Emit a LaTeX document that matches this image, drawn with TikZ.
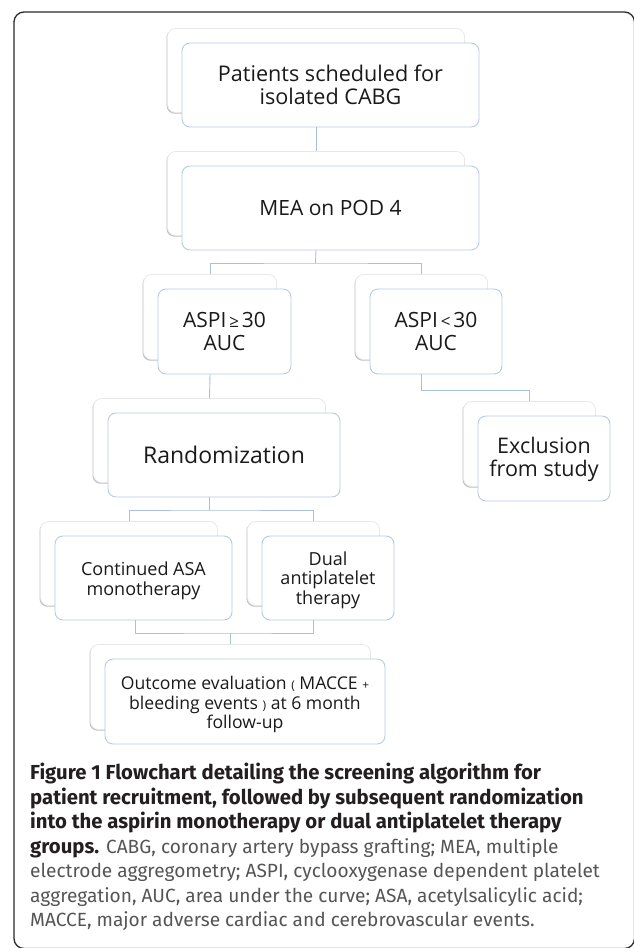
\documentclass[tikz,border=0pt]{standalone}
\usepackage{fontspec}
\setmainfont{Open Sans}
\newfontfamily\capfont{Fira Sans}
\usetikzlibrary{shadows}
\definecolor{boxblue}{HTML}{B7CBE3}
\definecolor{lineblue}{HTML}{A8C0DD}
\definecolor{backgray}{HTML}{E8E8E8}
\definecolor{framecol}{HTML}{2B2B2B}
\definecolor{captxt}{HTML}{231F20}
\definecolor{capgray}{HTML}{555555}
\definecolor{boxtxt}{HTML}{1A1A1A}
\newcommand\capbold[1]{{\fontsize{20.3}{24.5}\selectfont\bfseries #1}}
\newcommand\capreg[1]{{\fontsize{19.1}{24.5}\selectfont\color{capgray}#1}}
% #1 name, #2 cx, #3 cy, #4 width, #5 height, #6 font, #7 text, #8 text shift down
\newcommand\twobox[8]{%
  \node[backbox, minimum width=#4, minimum height=#5] (#1b) at ({#2-14.5},{#3-14.5}) {};
  \node[frontbox, minimum width=#4, minimum height=#5] (#1f) at (#2,#3) {};
  \node[boxtext, font=#6] (#1t) at ({#2},{#3+#8}) {#7};}
\begin{document}
\begin{tikzpicture}[x=1pt,y=-1pt,
  frontbox/.style={draw=boxblue, line width=0.9pt, fill=white, rounded corners=8pt,
    inner sep=0pt},
  boxtext/.style={inner sep=0pt, align=center, text=boxtxt},
  backbox/.style={draw=backgray, line width=0.8pt, fill=white, rounded corners=8pt,
    inner sep=0pt, drop shadow={shadow xshift=-1pt, shadow yshift=-1.2pt, fill=black!45, opacity=0.55}},
  conn/.style={draw=lineblue, line width=0.9pt},
]
\useasboundingbox[fill=white] (0,0) rectangle (633,948);
\draw[framecol, line width=1.3pt, rounded corners=10pt] (14,12) rectangle (634.5,948.5);

\twobox{P}{330.5}{85}{297}{84}{\fontsize{21.6}{23}\selectfont}{Patients scheduled for\\isolated CABG}{0}
\twobox{M}{330.5}{208}{297}{84}{\fontsize{21}{25}\selectfont}{MEA on POD 4}{0}
\twobox{Aa}{224.5}{331.5}{133}{85}{\fontsize{21}{23.5}\selectfont}{ASPI{\fontsize{17}{17}\selectfont\,≥\,}30\\AUC}{0}
\twobox{Ab}{436}{331.5}{132}{85}{\fontsize{21}{23.5}\selectfont}{ASPI{\fontsize{17}{17}\selectfont\,<\,}30\\AUC}{0}
\twobox{R}{224}{455}{232}{84}{\fontsize{23}{25}\selectfont}{Randomization}{0}
\twobox{E}{544}{458.5}{132}{85}{\fontsize{21.5}{23.5}\selectfont}{Exclusion\\from study}{1}
\twobox{C}{143.5}{578}{177}{84}{\fontsize{18}{19.5}\selectfont}{Continued ASA\\monotherapy}{3}
\twobox{D}{328}{578}{132}{84}{\fontsize{18}{19.5}\selectfont}{Dual\\antiplatelet\\therapy}{2}
\twobox{O}{245}{701.5}{280}{85}{\fontsize{17.6}{19.5}\selectfont}{Outcome evaluation {\fontsize{12}{12}\selectfont(} MACCE {\fontsize{12}{12}\selectfont+}\\bleeding events {\fontsize{12}{12}\selectfont)} at 6 month\\follow-up}{3}

\coordinate (jM) at (315.5,263);
\coordinate (jA) at (421.5,390);
\coordinate (jR) at (209.5,510);
\coordinate (jO) at (230.5,633);
\draw[conn] (Pb.south |- Pf.south) -- (Mb.north);
\draw[conn] (Mb.south |- Mf.south) -- (jM);
\draw[conn] (Aab.north) |- (jM) -| (Abb.north);
\draw[conn] (Aab.south |- Aaf.south) -- (Rb.north);
\draw[conn] (Abb.south |- Abf.south) -- (jA) -| (Eb.north);
\draw[conn] (Rb.south |- Rf.south) -- (jR);
\draw[conn] (Cb.north) |- (jR) -| (Db.north);
\draw[conn] ([xshift=6pt]Cb.south |- Cf.south) |- (jO) -| (Db.south |- Df.south);
\draw[conn] (jO) -- (Ob.north);

\node[anchor=north west, inner sep=0pt, align=left, text=captxt,
  font=\capfont\fontsize{19.6}{24.5}\selectfont] (cap) at (30,763) {%
\capbold{Figure 1 Flowchart detailing the screening algorithm for}\\
\capbold{patient recruitment, followed by subsequent randomization}\\
\capbold{into the aspirin monotherapy or dual antiplatelet therapy}\\
\capbold{groups.} \capreg{CABG, coronary artery bypass grafting; MEA, multiple}\\
\capreg{electrode aggregometry; ASPI, cyclooxygenase dependent platelet}\\
\capreg{aggregation, AUC, area under the curve; ASA, acetylsalicylic acid;}\\
\capreg{MACCE, major adverse cardiac and cerebrovascular events.}};
\end{tikzpicture}
\end{document}
